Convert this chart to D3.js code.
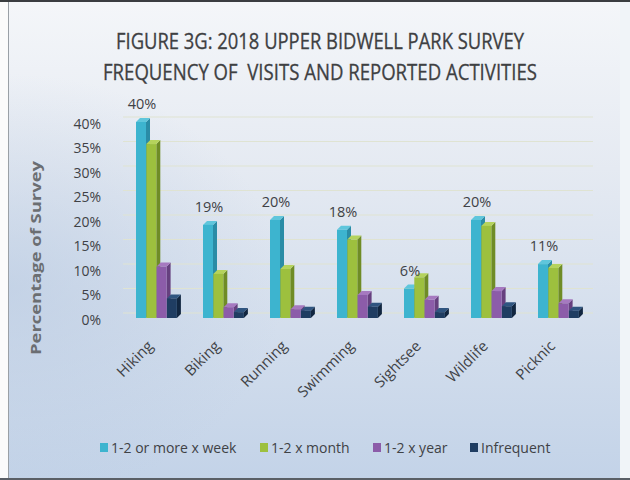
<!DOCTYPE html>
<html>
<head>
<meta charset="utf-8">
<script src="https://cdn.jsdelivr.net/npm/d3@7"></script>
<style>
  html, body { margin: 0; padding: 0; background: #ffffff; }
  svg { display: block; }
</style>
</head>
<body>
<svg id="chart" width="630" height="480"></svg>
<script>
// Survey results: share of respondents per activity and visit frequency
const activities = ["Hiking", "Biking", "Running", "Swimming", "Sightsee", "Wildlife", "Picknic"];
const frequencies = ["1-2 or more x week", "1-2 x month", "1-2 x year", "Infrequent"];
const weekly    = [40, 19, 20, 18, 6, 20, 11];
const monthly   = [35.5, 9, 10, 16, 8.3, 18.8, 10.2];
const yearly    = [10.5, 2.2, 1.8, 4.7, 3.7, 5.5, 3];
const infrequent = [4, 1.2, 1.5, 2.3, 1.2, 2.4, 1.5];
const yTicks = [0, 5, 10, 15, 20, 25, 30, 35, 40];

const seriesValues = [weekly, monthly, yearly, infrequent];
// front / side / top face colours for each frequency
const faceColors = [
  { front: "#3db4cf", side: "#2a8ca6", top: "#5fc6dc" },
  { front: "#9dc03e", side: "#6f8c26", top: "#b5d35c" },
  { front: "#8c5ca9", side: "#66407f", top: "#a679c0" },
  { front: "#1f3d62", side: "#112640", top: "#2f5580" }
];

const svg = d3.select("#chart");
const font = "'Open Sans', Lato, sans-serif";

// ---- background panel ----
const defs = svg.append("defs");
const bg = defs.append("linearGradient").attr("id", "bg").attr("x1", 0).attr("y1", 0).attr("x2", 0).attr("y2", 1);
bg.append("stop").attr("offset", "0%").attr("stop-color", "#f4f6f9");
bg.append("stop").attr("offset", "35%").attr("stop-color", "#e5eaf2");
bg.append("stop").attr("offset", "100%").attr("stop-color", "#c3d3e8");
const leftShade = defs.append("radialGradient").attr("id", "leftShade")
  .attr("cx", 0).attr("cy", 0.6).attr("r", 0.45);
leftShade.append("stop").attr("offset", "0%").attr("stop-color", "#b7c9e1").attr("stop-opacity", 0.6);
leftShade.append("stop").attr("offset", "100%").attr("stop-color", "#b7c9e1").attr("stop-opacity", 0);

svg.append("rect").attr("x", 0).attr("y", 0).attr("width", 630).attr("height", 480).attr("fill", "#fbfbfb");
svg.append("rect").attr("x", 9).attr("y", 2).attr("width", 611).attr("height", 476).attr("fill", "url(#bg)");
svg.append("rect").attr("x", 9).attr("y", 2).attr("width", 611).attr("height", 476).attr("fill", "url(#leftShade)");
svg.append("rect").attr("x", 620).attr("y", 2).attr("width", 10).attr("height", 476).attr("fill", "#eef2f7").attr("opacity", 0.8);
svg.append("line").attr("x1", 8.5).attr("x2", 8.5).attr("y1", 0).attr("y2", 480).attr("stroke", "#9aa0a6").attr("stroke-width", 1);
svg.append("rect").attr("x", 0).attr("y", 0).attr("width", 630).attr("height", 2).attr("fill", "#3a3d40");
svg.append("rect").attr("x", 0).attr("y", 478).attr("width", 630).attr("height", 2).attr("fill", "#5a5f66");

// ---- title ----
const titleLines = ["FIGURE 3G: 2018 UPPER BIDWELL PARK SURVEY", "FREQUENCY OF  VISITS AND REPORTED ACTIVITIES"];
const titleWidths = [408, 434];
svg.append("g").selectAll("text").data(titleLines).join("text")
  .attr("x", 320)
  .attr("y", (d, i) => 49 + i * 31)
  .attr("text-anchor", "middle")
  .attr("font-family", font)
  .attr("font-size", 21)
  .attr("fill", "#3e4042")
  .attr("stroke", "#3e4042")
  .attr("stroke-width", 0.3)
  .attr("textLength", (d, i) => titleWidths[i])
  .attr("lengthAdjust", "spacingAndGlyphs")
  .style("white-space", "pre")
  .text(d => d);

// ---- scales ----
const y = d3.scaleLinear().domain([0, 40]).range([318, 122]);
const x0 = d3.scaleBand().domain(activities).range([122, 591]).padding(0);
const x1 = d3.scaleBand().domain(frequencies).range([14, 55.2]).padding(0);
const depth = 4;
const barW = 10;
const wallShift = 5; // back wall sits up/right of the bar fronts

// gridlines on the back wall
svg.append("g").selectAll("line").data(yTicks).join("line")
  .attr("x1", 123).attr("x2", 593)
  .attr("y1", d => y(d) - wallShift).attr("y2", d => y(d) - wallShift)
  .attr("stroke", "#dfe3d2").attr("stroke-width", 1.2);

// y axis labels
const yAxis = d3.axisLeft(y).tickValues(yTicks).tickSize(0).tickPadding(0).tickFormat(d => d + "%");
const yg = svg.append("g").attr("transform", "translate(101,2)").call(yAxis);
yg.select(".domain").remove();
yg.selectAll("text").attr("font-family", font).attr("font-size", 14).attr("fill", "#3f4246");

// y axis title
svg.append("text")
  .attr("transform", "translate(41,258) rotate(-90)")
  .attr("text-anchor", "middle")
  .attr("font-family", font)
  .attr("font-size", 15)
  .attr("font-weight", "bold")
  .attr("fill", "#6b6e72")
  .attr("textLength", 194)
  .attr("lengthAdjust", "spacingAndGlyphs")
  .text("Percentage of Survey");

// ---- 3D bars ----
const rows = [];
activities.forEach((a, i) => {
  frequencies.forEach((f, j) => {
    rows.push({ activity: a, freq: f, j, value: seriesValues[j][i] });
  });
});

const bars = svg.append("g").selectAll("g").data(rows).join("g")
  .attr("transform", d => `translate(${x0(d.activity) + x1(d.freq)},0)`);

bars.append("path") // side face
  .attr("d", d => {
    const t = y(d.value), b = y(0);
    return `M${barW},${t}L${barW + depth},${t - depth}L${barW + depth},${b - depth}L${barW},${b}Z`;
  })
  .attr("fill", d => faceColors[d.j].side);
bars.append("path") // top face
  .attr("d", d => {
    const t = y(d.value);
    return `M0,${t}L${depth},${t - depth}L${barW + depth},${t - depth}L${barW},${t}Z`;
  })
  .attr("fill", d => faceColors[d.j].top);
bars.append("rect") // front face
  .attr("x", 0).attr("width", barW)
  .attr("y", d => y(d.value))
  .attr("height", d => y(0) - y(d.value))
  .attr("fill", d => faceColors[d.j].front);

// value labels above the weekly bars
svg.append("g").selectAll("text").data(activities).join("text")
  .attr("x", (d, i) => x0(d) + x1(frequencies[0]) + barW / 2 + 1)
  .attr("y", (d, i) => y(weekly[i]) - 13)
  .attr("text-anchor", "middle")
  .attr("font-family", font)
  .attr("font-size", 14.5)
  .attr("fill", "#3f4246")
  .text((d, i) => weekly[i] + "%");

// category labels, rotated
svg.append("g").selectAll("text").data(activities).join("text")
  .attr("transform", d => `translate(${x0(d) + 32},${347}) rotate(-45)`)
  .attr("text-anchor", "end")
  .attr("font-family", font)
  .attr("font-size", 15)
  .attr("fill", "#3f4246")
  .text(d => d);

// ---- legend ----
const legendX = [100, 260, 373, 470];
const lg = svg.append("g").selectAll("g").data(frequencies).join("g")
  .attr("transform", (d, i) => `translate(${legendX[i]},448)`);
lg.append("rect").attr("x", 0).attr("y", -5).attr("width", 8).attr("height", 9)
  .attr("fill", (d, i) => faceColors[i].front);
lg.append("text").attr("x", 11).attr("y", 5)
  .attr("font-family", font).attr("font-size", 14).attr("fill", "#3f4246")
  .text(d => d);
</script>
</body>
</html>
